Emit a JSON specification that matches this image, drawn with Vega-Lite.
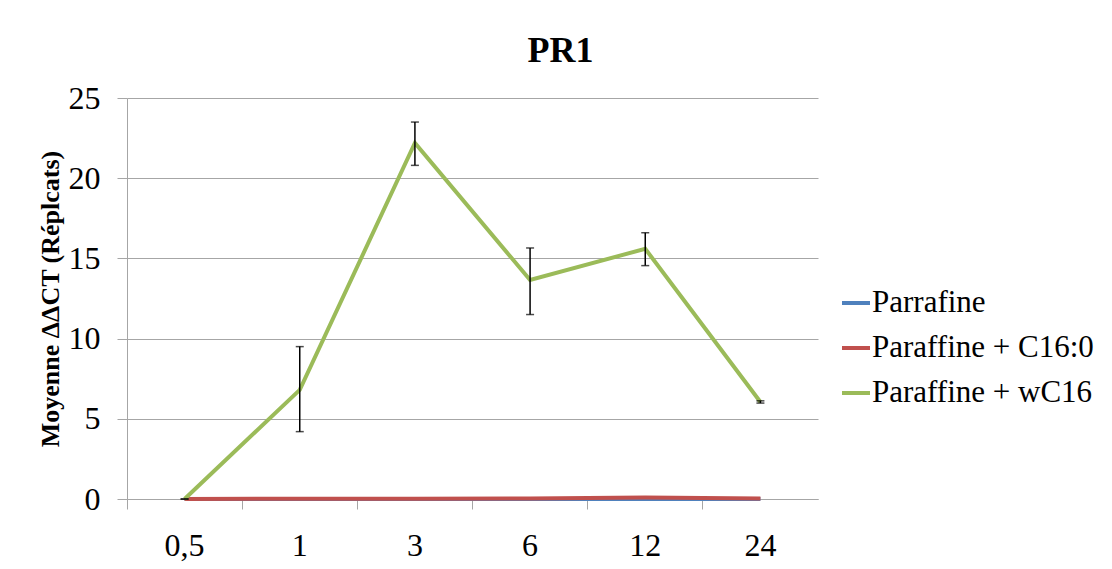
{
  "$schema": "https://vega.github.io/schema/vega-lite/v6.json",
  "autosize": {"type": "none"},
  "padding": {"left": 127, "top": 98, "right": 294, "bottom": 70},
  "width": 691,
  "height": 401,
  "background": "white",
  "config": {
    "font": "Liberation Serif",
    "view": {"stroke": null}
  },
  "title": {
    "text": "PR1",
    "font": "Liberation Serif",
    "fontSize": 36,
    "fontWeight": "bold",
    "color": "black",
    "anchor": "middle",
    "frame": "group",
    "dx": 88,
    "offset": 12
  },
  "data": {
    "values": [
      {"series": "Parrafine", "time": "0,5", "t": 0.5, "value": 0, "lo": 0, "hi": 0},
      {"series": "Parrafine", "time": "1", "t": 1, "value": 0, "lo": 0, "hi": 0},
      {"series": "Parrafine", "time": "3", "t": 3, "value": 0, "lo": 0, "hi": 0},
      {"series": "Parrafine", "time": "6", "t": 6, "value": 0, "lo": 0, "hi": 0},
      {"series": "Parrafine", "time": "12", "t": 12, "value": 0, "lo": 0, "hi": 0},
      {"series": "Parrafine", "time": "24", "t": 24, "value": 0, "lo": 0, "hi": 0},
      {"series": "Paraffine + C16:0", "time": "0,5", "t": 0.5, "value": 0, "lo": 0, "hi": 0},
      {"series": "Paraffine + C16:0", "time": "1", "t": 1, "value": 0.02, "lo": 0.02, "hi": 0.02},
      {"series": "Paraffine + C16:0", "time": "3", "t": 3, "value": 0.02, "lo": 0.02, "hi": 0.02},
      {"series": "Paraffine + C16:0", "time": "6", "t": 6, "value": 0.03, "lo": 0.03, "hi": 0.03},
      {"series": "Paraffine + C16:0", "time": "12", "t": 12, "value": 0.1, "lo": 0.1, "hi": 0.1},
      {"series": "Paraffine + C16:0", "time": "24", "t": 24, "value": 0.03, "lo": 0.03, "hi": 0.03},
      {"series": "Paraffine + wC16", "time": "0,5", "t": 0.5, "value": 0, "lo": 0, "hi": 0},
      {"series": "Paraffine + wC16", "time": "1", "t": 1, "value": 6.8, "lo": 4.2, "hi": 9.5},
      {"series": "Paraffine + wC16", "time": "3", "t": 3, "value": 22.2, "lo": 20.8, "hi": 23.5},
      {"series": "Paraffine + wC16", "time": "6", "t": 6, "value": 13.65, "lo": 11.5, "hi": 15.65},
      {"series": "Paraffine + wC16", "time": "12", "t": 12, "value": 15.6, "lo": 14.55, "hi": 16.6},
      {"series": "Paraffine + wC16", "time": "24", "t": 24, "value": 6.05, "lo": 5.98, "hi": 6.12}
    ]
  },
  "encoding": {
    "x": {
      "field": "time",
      "type": "nominal",
      "sort": ["0,5", "1", "3", "6", "12", "24"],
      "scale": {"paddingInner": 0, "paddingOuter": 0},
      "axis": {
        "title": null,
        "labelAngle": 0,
        "labelFont": "Liberation Serif",
        "labelFontSize": 32,
        "labelColor": "black",
        "labelPadding": 21,
        "tickSize": 10,
        "tickColor": "#A6A6A6",
        "domainColor": "#A6A6A6",
        "bandPosition": 0,
        "grid": false
      }
    }
  },
  "layer": [
    {
      "mark": {"type": "line", "strokeWidth": 4},
      "encoding": {
        "y": {
          "field": "value",
          "type": "quantitative",
          "scale": {"domain": [0, 25], "padding": 0, "nice": false},
          "axis": {
            "title": "Moyenne ΔΔCT (Réplcats)",
            "titleFont": "Liberation Serif",
            "titleFontSize": 26,
            "titleFontWeight": "bold",
            "titleColor": "black",
            "titlePadding": 5,
            "values": [0, 5, 10, 15, 20, 25],
            "labelFont": "Liberation Serif",
            "labelFontSize": 32,
            "labelColor": "black",
            "labelPadding": 17,
            "tickSize": 10,
            "tickColor": "#A6A6A6",
            "domainColor": "#A6A6A6",
            "gridColor": "#A6A6A6",
            "gridWidth": 1
          }
        },
        "color": {
          "field": "series",
          "type": "nominal",
          "sort": ["Parrafine", "Paraffine + C16:0", "Paraffine + wC16"],
          "scale": {
            "domain": ["Parrafine", "Paraffine + C16:0", "Paraffine + wC16"],
            "range": ["#4F81BD", "#C0504D", "#9BBB59"]
          },
          "legend": {
            "title": null,
            "orient": "none",
            "legendX": 713,
            "legendY": 189,
            "symbolType": "stroke",
            "symbolStrokeWidth": 4,
            "symbolSize": 784,
            "labelFont": "Liberation Serif",
            "labelFontSize": 31,
            "labelColor": "black",
            "labelLimit": 0,
            "labelOffset": 0,
            "rowPadding": 14
          }
        },
        "order": {"field": "t", "type": "quantitative"}
      }
    },
    {
      "transform": [{"filter": "datum.series === 'Paraffine + wC16'"}],
      "mark": {"type": "rule", "color": "black", "strokeWidth": 1.5},
      "encoding": {
        "y": {"field": "lo", "type": "quantitative"},
        "y2": {"field": "hi"}
      }
    },
    {
      "transform": [{"filter": "datum.series === 'Paraffine + wC16'"}],
      "mark": {"type": "tick", "color": "black", "size": 8, "thickness": 1.5, "orient": "horizontal"},
      "encoding": {
        "y": {"field": "lo", "type": "quantitative"}
      }
    },
    {
      "transform": [{"filter": "datum.series === 'Paraffine + wC16'"}],
      "mark": {"type": "tick", "color": "black", "size": 8, "thickness": 1.5, "orient": "horizontal"},
      "encoding": {
        "y": {"field": "hi", "type": "quantitative"}
      }
    }
  ]
}
